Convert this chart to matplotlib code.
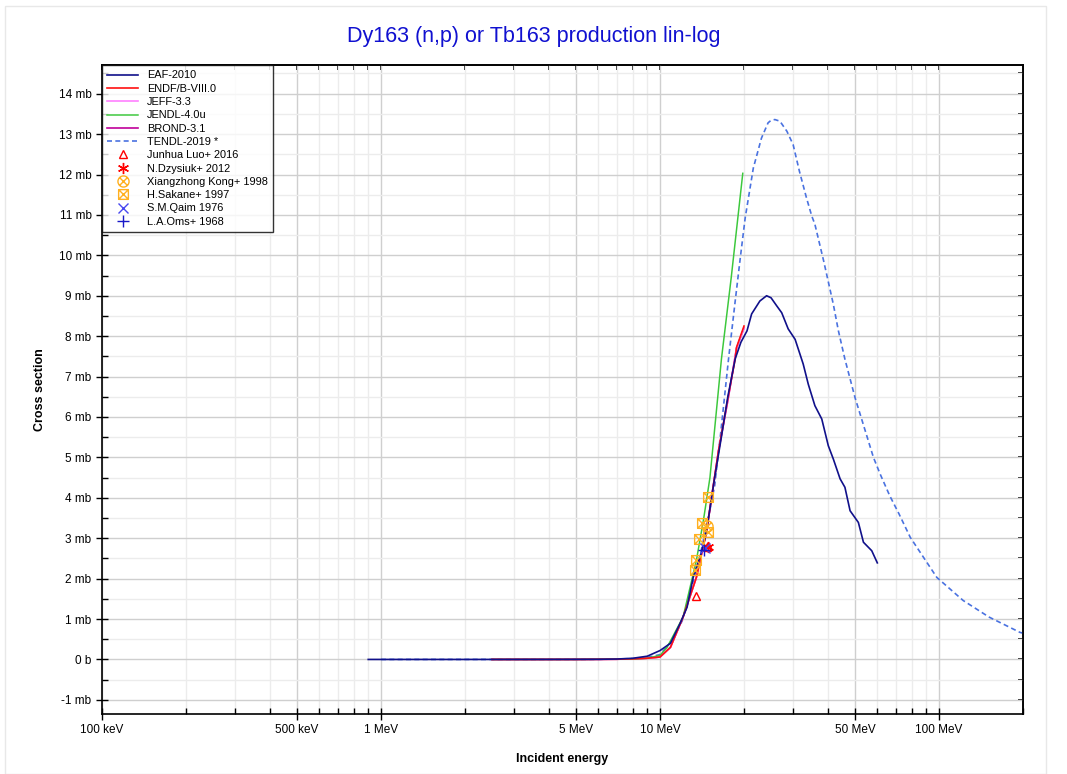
import matplotlib
matplotlib.use("Agg")
import matplotlib.pyplot as plt
import numpy as np
from matplotlib.path import Path
from matplotlib.ticker import FixedLocator, FixedFormatter, MultipleLocator, FuncFormatter, NullFormatter
from matplotlib.patches import Rectangle

plt.rcParams['font.family'] = ['Liberation Sans', 'DejaVu Sans']

# Auswertungen (Energie in MeV, Wirkungsquerschnitt in mb)
eaf_e = [0.9, 2, 4, 6, 7, 8, 9, 10, 10.9, 11.8, 12.5, 13.15, 14.0, 14.5, 15.0, 15.7, 16.5,
         17.5, 18.6, 19.5, 20.5, 21.3, 22.8, 24.1, 25.0, 26.2, 27.3, 28.8, 30.5, 32.6, 34.0,
         35.9, 38.0, 40.1, 41.8, 44.2, 46.0, 48.0, 51.4, 53.6, 57.4, 60.1]
eaf_cs = [0, 0, 0.001, 0.004, 0.01, 0.03, 0.08, 0.22, 0.40, 0.89, 1.29, 2.03, 2.6, 3.0, 3.6,
          4.5, 5.4, 6.5, 7.44, 7.85, 8.13, 8.55, 8.87, 9.0, 8.95, 8.75, 8.58, 8.18, 7.92, 7.31,
          6.81, 6.28, 5.95, 5.29, 4.96, 4.47, 4.26, 3.68, 3.39, 2.90, 2.69, 2.39]

endf_e = [2.5, 5, 7, 8, 9, 10, 10.9, 12.1, 13.5, 14.7, 15.3, 16.2, 17.5, 18.6, 18.8, 20.0]
endf_cs = [0, 0, 0.005, 0.015, 0.03, 0.06, 0.30, 1.05, 2.03, 3.19, 4.01, 5.16, 6.45, 7.44, 7.72, 8.25]

jeff_e = [2.5, 5, 7, 8, 9, 10, 10.9, 12.1, 13.5, 14.7, 15.3, 16.2, 17.5, 18.8, 20.0]
jeff_cs = [0, 0, 0.005, 0.015, 0.03, 0.06, 0.30, 1.05, 2.03, 3.19, 4.0, 5.15, 6.4, 7.7, 8.2]

jendl_e = [2.5, 5, 8, 9, 10, 10.6, 12.1, 13.5, 14.3, 15.1, 16.6, 18.0, 19.8]
jendl_cs = [0, 0, 0.01, 0.03, 0.1, 0.30, 1.05, 2.45, 3.43, 4.5, 7.43, 9.45, 12.03]

brond_e = [2.5, 5, 7, 8, 9, 10, 10.9, 12.1, 13.5, 14.7, 15.3, 16.2, 17.5, 18.8, 20.0]
brond_cs = [0, 0, 0.005, 0.015, 0.03, 0.06, 0.30, 1.05, 2.03, 3.18, 4.0, 5.15, 6.4, 7.7, 8.2]

tendl_e = [1.0, 3, 6, 8, 9, 10, 11, 12, 13, 14, 15, 15.7, 16.5, 17.6, 18.6, 19.4, 20.2, 21.6,
           23.1, 24.4, 25.0, 25.8, 26.9, 28.5, 30.0, 31.6, 33.5, 35.0, 35.9, 38.6, 41.8, 43.6,
           46.0, 50.0, 58.2, 61.5, 66.6, 71.9, 78.9, 98.2, 122, 151, 195, 200]
tendl_cs = [0, 0, 0.002, 0.02, 0.05, 0.12, 0.45, 0.95, 1.8, 2.65, 3.6, 4.3, 5.6, 7.43, 8.87,
            9.94, 10.93, 12.16, 12.9, 13.28, 13.34, 13.36, 13.32, 13.07, 12.74, 12.08, 11.42,
            10.97, 10.77, 9.86, 8.79, 8.13, 7.43, 6.48, 5.0, 4.59, 4.05, 3.6, 3.02, 2.03, 1.46,
            1.05, 0.67, 0.65]

# Messdaten
luo_e = [13.5, 14.7, 14.9]
luo_cs = [1.58, 2.78, 2.80]
dzysiuk_e = [14.8]
dzysiuk_cs = [2.79]
kong_e = [14.7]
kong_cs = [3.29]
sakane_e = [13.3, 13.5, 13.8, 14.2, 14.8, 14.9]
sakane_cs = [2.22, 2.47, 2.98, 3.37, 3.15, 4.03]
qaim_e = [14.5]
qaim_cs = [2.75]
oms_e = [14.4]
oms_cs = [2.70]

major_e = [0.1, 0.5, 1, 5, 10, 50, 100]
major_labels = ['100 keV', '500 keV', '1 MeV', '5 MeV', '10 MeV', '50 MeV', '100 MeV']
minor_e = [m * 10.0 ** p for p in range(-1, 3) for m in range(2, 10) if m != 5]


def cross_marker(base):
    # Marker mit eingezeichnetem Kreuz (Kreis oder Quadrat)
    d = 0.707 if base == 'circle' else 1.0
    diag = Path([(-d, -d), (d, d), (-d, d), (d, -d)],
                [Path.MOVETO, Path.LINETO, Path.MOVETO, Path.LINETO])
    if base == 'circle':
        outer = Path.unit_circle()
    else:
        outer = Path([(-1, -1), (1, -1), (1, 1), (-1, 1), (-1, -1)],
                     [Path.MOVETO, Path.LINETO, Path.LINETO, Path.LINETO, Path.CLOSEPOLY])
    return Path.make_compound_path(outer, diag)


fig = plt.figure(figsize=(10.67, 7.74), dpi=100)
fig.patches.append(Rectangle((5 / 1067, 0), 1041 / 1067, 1 - 6 / 774, transform=fig.transFigure,
                             fill=False, edgecolor='#e8e8e8', linewidth=1))
ax = fig.add_axes([102 / 1067, 1 - 714 / 774, 921 / 1067, 649 / 774])

lw = 1.2
ax.plot(eaf_e, eaf_cs, color='#10108a', lw=lw, label='EAF-2010', zorder=6)
ax.plot(endf_e, endf_cs, color='#ff1010', lw=lw, label='ENDF/B-VIII.0', zorder=5)
ax.plot(jeff_e, jeff_cs, color='#ff80ff', lw=lw, label='JEFF-3.3', zorder=3)
ax.plot(jendl_e, jendl_cs, color='#3cc83c', lw=lw * 0.9, label='JENDL-4.0u', zorder=4)
ax.plot(brond_e, brond_cs, color='#c0009a', lw=lw, label='BROND-3.1', zorder=2)
ax.plot(tendl_e, tendl_cs, color='#4a72e0', lw=lw, ls=(0, (3, 2)), label='TENDL-2019 *', zorder=1)

ax.plot(luo_e, luo_cs, ls='none', marker='^', mfc='none', mec='#ff0000', ms=6, mew=1.0,
        label='Junhua Luo+ 2016', zorder=7)
ax.plot(dzysiuk_e, dzysiuk_cs, ls='none', marker=(6, 2, 0), color='#ff0000', ms=8, mew=1.0,
        label='N.Dzysiuk+ 2012', zorder=7)
ax.plot(kong_e, kong_cs, ls='none', marker=cross_marker('circle'), mfc='none', mec='#ffb020',
        ms=8, mew=1.0, label='Xiangzhong Kong+ 1998', zorder=7)
ax.plot(sakane_e, sakane_cs, ls='none', marker=cross_marker('square'), mfc='none', mec='#ffb020',
        ms=7, mew=1.0, label='H.Sakane+ 1997', zorder=7)
ax.plot(qaim_e, qaim_cs, ls='none', marker='x', color='#4848f0', ms=7, mew=1.0,
        label='S.M.Qaim 1976', zorder=7)
ax.plot(oms_e, oms_cs, ls='none', marker='+', color='#1818c8', ms=9, mew=1.0,
        label='L.A.Oms+ 1968', zorder=7)

ax.set_xscale('log')
ax.set_xlim(0.1, 200)
ax.set_ylim(-1.35, 14.71)

ax.xaxis.set_major_locator(FixedLocator(major_e))
ax.xaxis.set_major_formatter(FixedFormatter(major_labels))
ax.xaxis.set_minor_locator(FixedLocator(minor_e))
ax.xaxis.set_minor_formatter(NullFormatter())

ax.yaxis.set_major_locator(MultipleLocator(1))
ax.yaxis.set_minor_locator(MultipleLocator(0.5))
ax.yaxis.set_major_formatter(FuncFormatter(lambda v, p: '0 b' if abs(v) < 1e-9 else f'{v:.0f} mb'))

ax.grid(True, which='major', color='#cfcfcf', linewidth=1.0)
ax.grid(True, which='minor', color='#ececec', linewidth=1.0)
ax.set_axisbelow(True)

ax.tick_params(which='major', direction='inout', length=8, width=1, labelsize=8.5)
ax.tick_params(which='minor', direction='in', length=4, width=1)
for s in ax.spines.values():
    s.set_linewidth(1.2)

# kurze Ticks oben und rechts, nur nach innen
top = ax.secondary_xaxis('top')
top.xaxis.set_major_locator(FixedLocator(major_e))
top.xaxis.set_minor_locator(FixedLocator(minor_e))
top.xaxis.set_major_formatter(NullFormatter())
top.xaxis.set_minor_formatter(NullFormatter())
top.tick_params(which='both', direction='in', length=3.5, width=1.2, color='black')
top.spines['top'].set_linewidth(1.2)

right = ax.secondary_yaxis('right')
right.yaxis.set_major_locator(MultipleLocator(1))
right.yaxis.set_minor_locator(MultipleLocator(0.5))
right.yaxis.set_major_formatter(NullFormatter())
right.tick_params(which='both', direction='in', length=3.5, width=1.2, color='black')
right.spines['right'].set_linewidth(1.2)

ax.set_xlabel('Incident energy', fontsize=9, fontweight='bold', labelpad=12)
ax.set_ylabel('Cross section', fontsize=9, fontweight='bold', labelpad=9)
fig.suptitle('Dy163 (n,p) or Tb163 production lin-log', fontsize=15.5, color='#1010d0', y=0.967)

leg = ax.legend(loc='upper left', fontsize=7.9, frameon=True, fancybox=False, borderaxespad=0,
                labelspacing=0.3, handlelength=2.8, handletextpad=0.8, borderpad=0.5)
leg.get_frame().set_edgecolor('black')
leg.get_frame().set_linewidth(1.0)
leg.set_zorder(10)

plt.savefig('out.png', dpi=100)
